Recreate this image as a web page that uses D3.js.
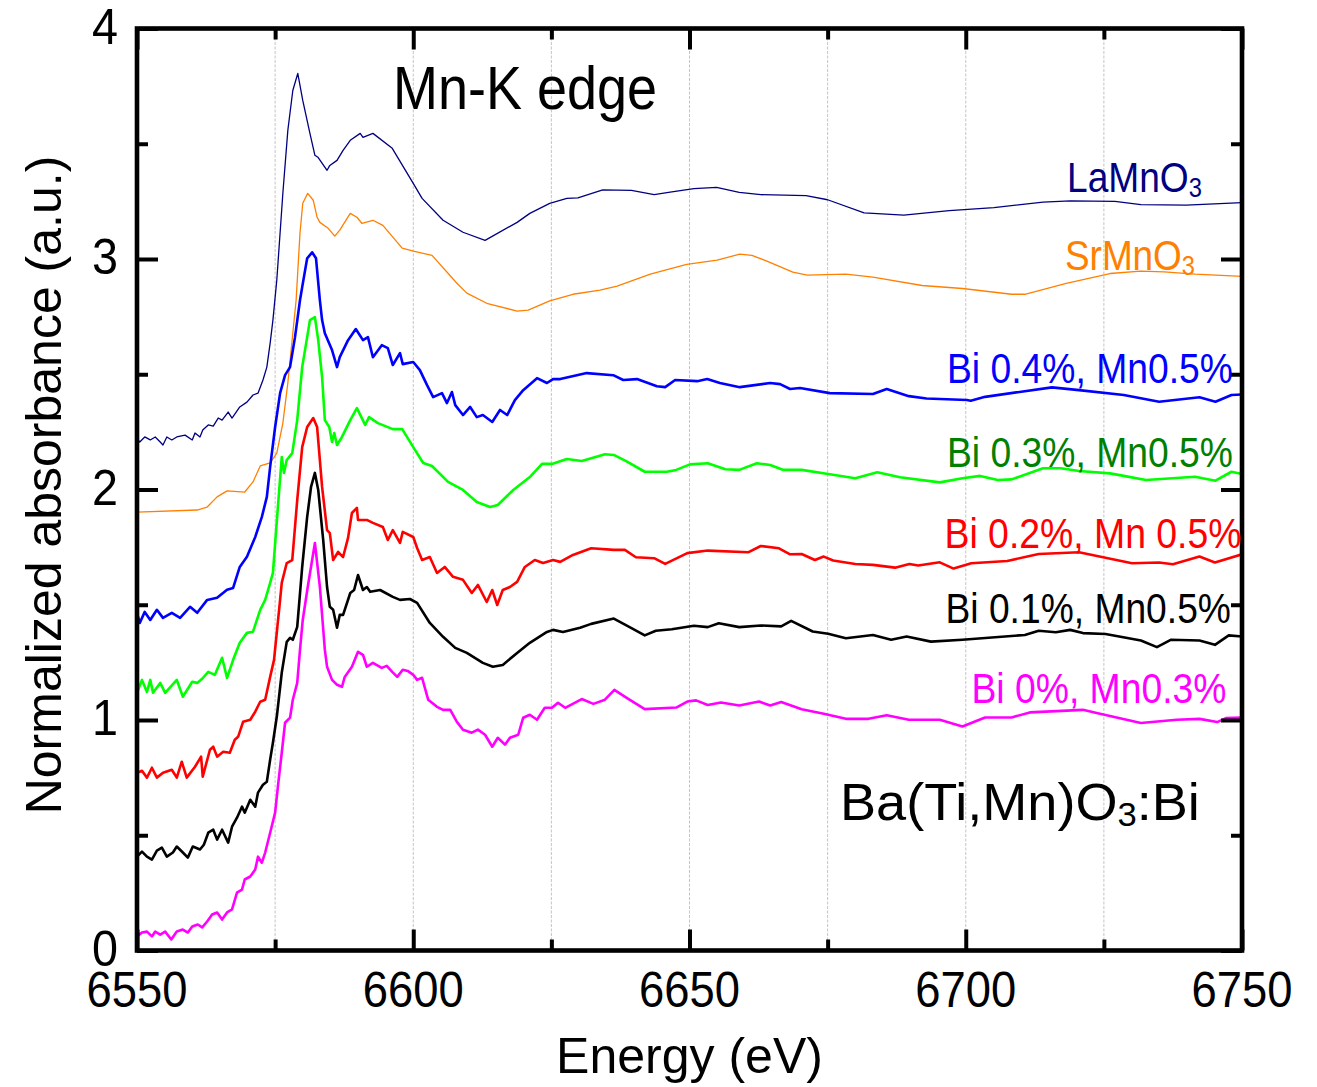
<!DOCTYPE html>
<html><head><meta charset="utf-8">
<script src="https://cdn.jsdelivr.net/npm/d3@7"></script>
<style>body{margin:0;background:#fff}svg{display:block}</style>
</head><body>
<svg id="c" width="1317" height="1087"></svg>
<script>
// ---------- DATA (energy eV, normalized absorbance) ----------
const laMnO3 = [[6550.0,2.223],[6550.5,2.206],[6551.4,2.228],[6552.4,2.215],[6553.3,2.228],[6554.2,2.206],[6554.7,2.193],[6555.4,2.228],[6556.3,2.215],[6557.2,2.228],[6558.7,2.236],[6560.0,2.215],[6560.5,2.245],[6561.4,2.228],[6561.9,2.258],[6562.9,2.28],[6563.8,2.275],[6564.7,2.31],[6565.4,2.301],[6566.5,2.336],[6567.2,2.31],[6568.6,2.358],[6569.9,2.379],[6571.0,2.41],[6571.9,2.418],[6572.8,2.475],[6573.5,2.531],[6574.1,2.635],[6574.6,2.735],[6575.3,2.908],[6576.4,3.285],[6577.3,3.558],[6578.2,3.731],[6579.1,3.805],[6580.0,3.688],[6581.3,3.545],[6582.2,3.45],[6582.8,3.44],[6584.4,3.385],[6584.9,3.406],[6586.2,3.428],[6587.3,3.471],[6588.6,3.515],[6590.4,3.545],[6590.9,3.528],[6592.7,3.545],[6596.2,3.48],[6600.0,3.328],[6601.6,3.263],[6605.4,3.168],[6609.0,3.116],[6613.0,3.081],[6618.8,3.159],[6621.1,3.198],[6624.7,3.241],[6627.8,3.263],[6629.8,3.265],[6634.3,3.30],[6639.5,3.298],[6643.6,3.279],[6646.8,3.291],[6650.8,3.305],[6654.9,3.311],[6659.0,3.289],[6662.9,3.279],[6671.1,3.275],[6675.0,3.257],[6681.6,3.20],[6688.8,3.19],[6697.0,3.21],[6705.1,3.223],[6714.0,3.247],[6718.9,3.252],[6727.0,3.25],[6731.7,3.236],[6739.9,3.234],[6750.0,3.245]];

const srMnO3 = [[6550.0,1.902],[6560.9,1.911],[6562.7,1.924],[6564.5,1.968],[6566.3,1.994],[6569.5,1.989],[6571.0,2.033],[6572.3,2.102],[6574.1,2.115],[6575.3,2.158],[6576.4,2.288],[6577.3,2.462],[6578.2,2.678],[6578.8,2.821],[6579.5,3.112],[6580.0,3.242],[6580.9,3.285],[6581.9,3.255],[6582.6,3.181],[6583.1,3.159],[6584.6,3.133],[6585.8,3.099],[6586.7,3.125],[6588.6,3.198],[6589.8,3.181],[6590.7,3.155],[6592.7,3.168],[6594.5,3.146],[6598.0,3.047],[6600.0,3.034],[6603.4,3.016],[6607.9,2.895],[6609.7,2.852],[6613.3,2.808],[6618.8,2.774],[6620.8,2.778],[6624.7,2.818],[6628.9,2.847],[6633.8,2.865],[6636.9,2.882],[6642.9,2.934],[6649.5,2.977],[6655.0,2.995],[6659.1,3.021],[6661.3,3.016],[6664.0,2.991],[6668.7,2.943],[6671.3,2.93],[6678.3,2.934],[6683.2,2.921],[6692.1,2.885],[6699.4,2.872],[6708.3,2.847],[6710.7,2.847],[6718.0,2.893],[6726.1,2.937],[6731.7,2.947],[6735.9,2.944],[6741.5,2.934],[6750.0,2.925]];

const bi04mn05 = [[6550.0,1.465],[6550.5,1.421],[6551.4,1.469],[6552.4,1.434],[6553.6,1.478],[6554.7,1.443],[6556.3,1.465],[6557.8,1.443],[6559.6,1.491],[6560.9,1.465],[6562.7,1.521],[6564.5,1.53],[6566.3,1.565],[6567.4,1.573],[6568.6,1.664],[6569.9,1.708],[6571.4,1.794],[6572.6,1.881],[6573.5,1.968],[6574.1,2.098],[6575.0,2.271],[6575.9,2.418],[6576.8,2.496],[6577.7,2.531],[6578.6,2.661],[6579.5,2.821],[6579.9,2.878],[6580.8,3.003],[6581.7,3.029],[6582.4,3.003],[6583.1,2.821],[6583.5,2.735],[6584.0,2.678],[6585.3,2.605],[6586.2,2.531],[6586.7,2.574],[6588.2,2.648],[6589.6,2.696],[6590.9,2.648],[6591.8,2.661],[6592.7,2.574],[6594.3,2.626],[6595.4,2.613],[6596.3,2.54],[6597.6,2.592],[6598.1,2.544],[6600.0,2.553],[6601.2,2.518],[6602.5,2.453],[6603.6,2.401],[6605.2,2.418],[6606.1,2.375],[6607.0,2.423],[6607.6,2.366],[6609.0,2.323],[6610.3,2.358],[6611.5,2.314],[6612.6,2.323],[6614.3,2.293],[6615.7,2.345],[6617.0,2.323],[6618.4,2.388],[6619.9,2.431],[6622.4,2.483],[6624.2,2.462],[6625.3,2.479],[6626.6,2.479],[6631.4,2.505],[6636.2,2.496],[6638.0,2.475],[6640.5,2.479],[6644.1,2.448],[6645.6,2.444],[6647.4,2.475],[6651.4,2.47],[6653.2,2.479],[6655.5,2.462],[6659.1,2.444],[6664.6,2.462],[6666.4,2.457],[6668.2,2.436],[6670.0,2.44],[6675.4,2.418],[6683.2,2.414],[6685.7,2.436],[6689.7,2.405],[6692.9,2.395],[6700.2,2.388],[6700.9,2.385],[6703.5,2.402],[6715.6,2.443],[6720.5,2.431],[6728.6,2.41],[6735.0,2.381],[6742.3,2.40],[6745.2,2.381],[6748.1,2.41],[6750.0,2.412]];

const bi03mn05 = [[6550.0,1.118],[6550.9,1.174],[6551.8,1.122],[6552.4,1.174],[6552.9,1.118],[6554.2,1.161],[6555.1,1.118],[6557.2,1.174],[6558.3,1.101],[6560.0,1.166],[6560.9,1.161],[6561.8,1.179],[6562.9,1.209],[6564.1,1.196],[6565.4,1.27],[6566.3,1.183],[6567.4,1.261],[6568.6,1.335],[6569.9,1.378],[6571.0,1.383],[6572.3,1.478],[6573.2,1.521],[6574.1,1.595],[6574.6,1.638],[6575.5,1.924],[6576.2,2.141],[6576.6,2.072],[6577.1,2.128],[6578.1,2.158],[6579.0,2.301],[6579.9,2.531],[6580.8,2.661],[6581.3,2.735],[6582.2,2.748],[6582.8,2.648],[6583.5,2.488],[6584.0,2.301],[6584.8,2.271],[6585.3,2.206],[6585.7,2.245],[6586.2,2.193],[6587.1,2.228],[6588.6,2.301],[6589.8,2.353],[6590.7,2.31],[6591.3,2.28],[6592.0,2.314],[6593.6,2.288],[6596.3,2.262],[6598.0,2.262],[6600.0,2.184],[6601.8,2.115],[6603.4,2.102],[6606.3,2.033],[6609.0,1.998],[6611.5,1.946],[6613.9,1.924],[6615.3,1.933],[6618.1,1.998],[6621.1,2.054],[6623.3,2.111],[6625.1,2.111],[6627.8,2.132],[6630.5,2.124],[6634.7,2.153],[6636.3,2.15],[6638.7,2.121],[6641.9,2.077],[6645.9,2.077],[6647.6,2.085],[6650.1,2.109],[6653.3,2.114],[6656.5,2.088],[6659.0,2.085],[6662.2,2.114],[6664.6,2.106],[6667.0,2.085],[6670.3,2.085],[6675.1,2.067],[6680.0,2.049],[6684.0,2.075],[6688.1,2.053],[6695.3,2.031],[6699.4,2.049],[6702.6,2.059],[6705.8,2.041],[6708.3,2.044],[6714.0,2.092],[6717.2,2.092],[6720.5,2.08],[6726.1,2.07],[6728.6,2.059],[6732.6,2.041],[6741.5,2.055],[6745.2,2.038],[6748.1,2.077],[6750.0,2.067]];

const bi02mn05 = [[6550.0,0.771],[6550.9,0.78],[6551.8,0.75],[6552.7,0.793],[6553.6,0.75],[6554.7,0.771],[6556.3,0.784],[6557.2,0.75],[6558.1,0.819],[6559.0,0.75],[6560.5,0.797],[6561.6,0.841],[6561.9,0.754],[6563.2,0.871],[6563.8,0.884],[6564.5,0.841],[6565.6,0.862],[6566.8,0.858],[6567.7,0.914],[6568.3,0.927],[6569.2,0.992],[6570.5,1.001],[6571.4,1.036],[6572.3,1.079],[6573.2,1.088],[6574.1,1.187],[6574.8,1.261],[6575.9,1.521],[6576.2,1.595],[6577.1,1.681],[6578.1,1.694],[6579.0,1.954],[6579.9,2.184],[6580.8,2.271],[6581.9,2.31],[6582.6,2.271],[6583.5,2.011],[6584.4,1.824],[6584.9,1.811],[6585.5,1.694],[6586.4,1.729],[6587.3,1.707],[6588.2,1.79],[6588.9,1.898],[6589.8,1.92],[6590.0,1.868],[6591.6,1.868],[6592.7,1.855],[6594.5,1.837],[6595.4,1.781],[6596.3,1.824],[6597.6,1.768],[6598.1,1.816],[6600.0,1.794],[6600.7,1.746],[6601.6,1.694],[6603.0,1.707],[6604.3,1.638],[6605.7,1.664],[6607.2,1.621],[6609.0,1.608],[6610.6,1.551],[6611.7,1.586],[6613.3,1.512],[6614.3,1.564],[6615.2,1.499],[6616.2,1.564],[6617.5,1.577],[6618.8,1.599],[6620.2,1.664],[6622.0,1.694],[6623.5,1.681],[6625.3,1.694],[6626.6,1.686],[6628.9,1.716],[6632.2,1.745],[6636.3,1.738],[6638.3,1.738],[6640.3,1.706],[6643.6,1.702],[6645.6,1.677],[6649.6,1.724],[6653.3,1.735],[6660.7,1.728],[6662.9,1.755],[6666.2,1.745],[6668.2,1.719],[6670.3,1.72],[6672.7,1.694],[6674.3,1.709],[6676.0,1.692],[6680.0,1.677],[6683.2,1.673],[6687.2,1.661],[6689.8,1.677],[6691.4,1.67],[6695.3,1.684],[6697.8,1.657],[6701.0,1.68],[6707.5,1.69],[6713.2,1.72],[6720.5,1.728],[6730.1,1.68],[6735.0,1.683],[6737.5,1.676],[6742.3,1.709],[6745.1,1.683],[6750.0,1.719]];

const bi01mn05 = [[6550.0,0.407],[6550.9,0.429],[6551.8,0.407],[6552.7,0.394],[6553.6,0.433],[6554.5,0.446],[6555.4,0.407],[6556.5,0.425],[6557.2,0.451],[6558.3,0.425],[6559.2,0.403],[6560.1,0.451],[6561.4,0.438],[6562.1,0.459],[6562.9,0.511],[6563.8,0.524],[6564.5,0.481],[6565.4,0.524],[6566.5,0.468],[6567.2,0.537],[6568.1,0.576],[6569.0,0.624],[6569.5,0.598],[6570.5,0.654],[6571.4,0.624],[6571.9,0.685],[6572.8,0.719],[6573.5,0.732],[6574.1,0.828],[6574.6,0.901],[6575.3,1.014],[6576.2,1.205],[6577.1,1.339],[6577.7,1.356],[6578.2,1.348],[6579.0,1.404],[6579.9,1.664],[6580.8,1.881],[6581.5,2.011],[6582.2,2.072],[6582.8,1.998],[6583.7,1.781],[6584.4,1.577],[6584.9,1.491],[6585.5,1.478],[6586.2,1.40],[6586.7,1.456],[6587.3,1.456],[6588.6,1.551],[6589.3,1.564],[6590.0,1.629],[6590.9,1.564],[6591.6,1.577],[6592.2,1.556],[6594.0,1.564],[6596.3,1.534],[6597.6,1.521],[6599.4,1.525],[6600.7,1.508],[6603.0,1.421],[6605.4,1.361],[6607.6,1.313],[6609.7,1.291],[6612.6,1.248],[6614.4,1.231],[6616.2,1.239],[6618.8,1.291],[6621.1,1.335],[6624.2,1.382],[6625.3,1.391],[6627.1,1.382],[6630.2,1.40],[6632.2,1.417],[6636.3,1.44],[6639.5,1.399],[6641.9,1.367],[6643.9,1.387],[6646.8,1.394],[6650.8,1.409],[6653.3,1.403],[6655.3,1.42],[6659.0,1.403],[6662.9,1.41],[6666.6,1.406],[6668.4,1.43],[6672.3,1.384],[6675.1,1.374],[6678.3,1.355],[6683.2,1.369],[6686.5,1.348],[6689.3,1.362],[6693.7,1.34],[6699.4,1.348],[6710.7,1.369],[6713.2,1.387],[6716.3,1.381],[6718.9,1.391],[6721.2,1.377],[6725.3,1.373],[6731.7,1.345],[6734.6,1.316],[6737.1,1.348],[6742.3,1.345],[6745.1,1.326],[6747.6,1.367],[6750.0,1.362]];

const bi00mn03 = [[6550.0,0.061],[6550.9,0.078],[6551.8,0.082],[6552.7,0.061],[6553.3,0.082],[6554.2,0.069],[6555.1,0.082],[6556.2,0.048],[6557.2,0.082],[6558.3,0.091],[6559.2,0.078],[6560.0,0.104],[6561.0,0.113],[6561.8,0.10],[6562.7,0.126],[6563.6,0.156],[6564.5,0.165],[6565.4,0.134],[6566.3,0.165],[6567.2,0.178],[6568.1,0.251],[6569.0,0.264],[6569.5,0.308],[6570.5,0.321],[6571.4,0.351],[6571.9,0.407],[6572.6,0.381],[6573.2,0.425],[6574.1,0.511],[6575.0,0.598],[6575.5,0.711],[6576.2,0.858],[6576.8,0.988],[6577.7,1.01],[6578.2,1.088],[6579.0,1.161],[6579.5,1.304],[6580.0,1.434],[6580.9,1.577],[6582.2,1.768],[6583.1,1.577],[6584.0,1.304],[6584.4,1.231],[6585.3,1.174],[6586.2,1.153],[6587.1,1.144],[6587.6,1.187],[6588.9,1.231],[6590.0,1.296],[6590.9,1.283],[6591.6,1.231],[6592.7,1.248],[6594.3,1.226],[6595.2,1.235],[6596.2,1.209],[6597.1,1.187],[6598.1,1.218],[6599.0,1.213],[6600.0,1.196],[6600.7,1.174],[6601.6,1.183],[6602.7,1.088],[6604.3,1.057],[6605.4,1.044],[6606.7,1.044],[6607.9,0.992],[6609.0,0.958],[6610.6,0.945],[6611.7,0.958],[6613.0,0.936],[6614.3,0.884],[6615.3,0.923],[6616.6,0.893],[6617.5,0.923],[6619.0,0.936],[6619.9,1.01],[6621.1,1.023],[6622.4,1.001],[6623.8,1.053],[6625.1,1.053],[6626.2,1.075],[6627.5,1.053],[6630.5,1.091],[6632.6,1.07],[6634.7,1.088],[6636.4,1.131],[6638.7,1.095],[6641.9,1.047],[6647.6,1.054],[6649.6,1.08],[6651.2,1.085],[6653.3,1.065],[6655.7,1.076],[6659.0,1.063],[6662.6,1.08],[6664.6,1.063],[6666.6,1.078],[6670.3,1.047],[6674.3,1.027],[6678.3,1.005],[6682.4,1.005],[6685.7,1.021],[6689.7,1.001],[6695.3,1.001],[6699.4,0.972],[6703.5,1.011],[6708.3,1.011],[6711.6,1.033],[6721.2,1.044],[6723.7,1.03],[6731.7,0.987],[6738.2,1.001],[6742.3,1.005],[6745.5,0.991],[6747.1,1.008],[6750.0,1.011]];

const seriesData = [laMnO3, srMnO3, bi04mn05, bi03mn05, bi02mn05, bi01mn05, bi00mn03];
const seriesLabels = [["LaMnO","3"],["SrMnO","3"],["Bi 0.4%, Mn0.5%"],["Bi 0.3%, Mn0.5%"],["Bi 0.2%, Mn 0.5%"],["Bi 0.1%, Mn0.5%"],["Bi 0%, Mn0.3%"]];
const xMajorTicks = [6550,6600,6650,6700,6750];
const xMinorTicks = [6575,6625,6675,6725];
const yMajorTicks = [0,1,2,3,4];
const yMinorTicks = [0.5,1.5,2.5,3.5];
const gridValues = [6575,6600,6625,6650,6675,6700,6725];

// ---------- STYLE / LAYOUT ----------
const FONT = "'Liberation Sans', Arial, Helvetica, sans-serif";
const lineColors = ["#000080","#FF8000","#0000FF","#00FF00","#FF0000","#000000","#FF00FF"];
const labelColors = ["#000080","#FF8000","#0000FF","#008000","#FF0000","#000000","#FF00FF"];
const lineWidths = [1.3,1.3,2.6,2.6,2.6,2.6,2.6];
// label layout: left x, baseline y, width
const labelLayout = [[1067,191.5,135],[1065,270,130],[947,383,286],[947,466.5,286],[944.5,548,297],[945.5,623,285.5],[971.5,703,255]];

const L=137, R=1242, T=28.5, B=950.5;
const svg = d3.select("#c");
const x = d3.scaleLinear().domain([6550,6750]).range([L,R]);
const y = d3.scaleLinear().domain([0,4]).range([B,T]);

// compressed text helper
function ctext(g, px, py, parts, size, width, color, anchor){
  const t = g.append("text").attr("font-family",FONT).attr("font-size",size).attr("fill",color);
  let sub=false;
  parts.forEach((p,i)=>{
    const s = t.append("tspan").text(p);
    if(i>0 && i%2===1){ s.attr("font-size",size*0.64).attr("dy",size*0.12); sub=true; }
    else if(sub){ s.attr("dy",-size*0.12); sub=false; }
  });
  const w = t.node().getBBox().width;
  const sx = width ? width/w : 1;
  const ox = anchor==="middle" ? -w/2 : (anchor==="end" ? -w : 0);
  t.attr("x",ox).attr("transform",`translate(${px},${py}) scale(${sx},1)`);
  return t;
}

// gridlines
svg.append("g").selectAll("line").data(gridValues).join("line")
  .attr("x1",d=>x(d)).attr("x2",d=>x(d)).attr("y1",T).attr("y2",B)
  .attr("stroke","#c4c4c4").attr("stroke-width",1).attr("stroke-dasharray","3,1.5");

// curves
svg.append("clipPath").attr("id","clip").append("rect").attr("x",L).attr("y",T).attr("width",R-L).attr("height",B-T);
const line = d3.line().x(d=>x(d[0])).y(d=>y(d[1]));
const cg = svg.append("g").attr("clip-path","url(#clip)");
seriesData.forEach((s,i)=>{
  cg.append("path").attr("d",line(s)).attr("fill","none")
    .attr("stroke",lineColors[i]).attr("stroke-width",lineWidths[i]).attr("stroke-linejoin","round");
});

// axes (inward ticks)
function axisStyle(g){ g.select(".domain").remove(); g.selectAll("line").attr("stroke","#000").attr("stroke-width",4); g.selectAll("text").remove(); }
svg.append("g").attr("transform",`translate(0,${B})`).call(d3.axisBottom(x).tickValues(xMajorTicks).tickSize(-21)).call(axisStyle);
svg.append("g").attr("transform",`translate(0,${B})`).call(d3.axisBottom(x).tickValues(xMinorTicks).tickSize(-11)).call(axisStyle);
svg.append("g").attr("transform",`translate(0,${T})`).call(d3.axisTop(x).tickValues(xMajorTicks).tickSize(-21)).call(axisStyle);
svg.append("g").attr("transform",`translate(0,${T})`).call(d3.axisTop(x).tickValues(xMinorTicks).tickSize(-11)).call(axisStyle);
svg.append("g").attr("transform",`translate(${L},0)`).call(d3.axisLeft(y).tickValues(yMajorTicks).tickSize(-21)).call(axisStyle);
svg.append("g").attr("transform",`translate(${L},0)`).call(d3.axisLeft(y).tickValues(yMinorTicks).tickSize(-11)).call(axisStyle);
svg.append("g").attr("transform",`translate(${R},0)`).call(d3.axisRight(y).tickValues(yMajorTicks).tickSize(-21)).call(axisStyle);
svg.append("g").attr("transform",`translate(${R},0)`).call(d3.axisRight(y).tickValues(yMinorTicks).tickSize(-11)).call(axisStyle);
svg.append("rect").attr("x",L).attr("y",T).attr("width",R-L).attr("height",B-T)
  .attr("fill","none").attr("stroke","#000").attr("stroke-width",4.6);

// tick labels
const tl = svg.append("g");
xMajorTicks.forEach(v=>ctext(tl, x(v), 1007, [String(v)], 50, 101, "#000", "middle"));
yMajorTicks.forEach(v=>ctext(tl, 118, y(v)+15, [String(v)], 50, 26, "#000", "end"));

// axis titles
svg.append("text").attr("x",x(6650)).attr("y",1073).attr("text-anchor","middle")
  .attr("font-family",FONT).attr("font-size",50).attr("fill","#000").text("Energy (eV)");
svg.append("text").attr("transform",`translate(61,${485}) rotate(-90)`).attr("text-anchor","middle")
  .attr("font-family",FONT).attr("font-size",50).attr("fill","#000").text("Normalized absorbance (a.u.)");

// annotations
const ag = svg.append("g");
ctext(ag, 393, 109, ["Mn-K edge"], 61, 264, "#000", "start");
ctext(ag, 840, 820, ["Ba(Ti,Mn)","3",":Bi"].length?["Ba(Ti,Mn)O","3",":Bi"]:[], 52, 360, "#000", "start");

// series labels
seriesLabels.forEach((p,i)=>{
  const [lx,ly,lw] = labelLayout[i];
  ctext(ag, lx, ly, p, 42, lw, labelColors[i], "start");
});
</script>
</body></html>
